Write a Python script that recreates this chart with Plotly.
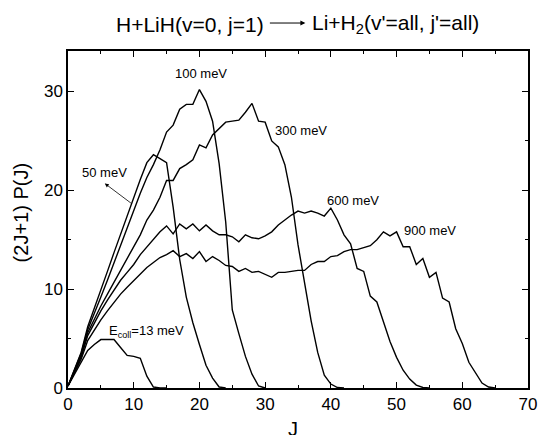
import plotly.graph_objects as go

# ---- data ----
P_13 = [0.2, 1.4, 2.6, 3.8, 4.4, 4.9, 4.9, 4.9, 4.1, 3.3, 3.2, 3.0, 1.2, 0.1, 0.0, 0.0]
P_50 = [0.2, 1.9, 3.6, 6.2, 8.0, 9.9, 11.8, 13.7, 15.6, 17.5, 19.4, 21.1, 22.8, 23.6, 23.2,
        22.8, 18.3, 13.0, 9.2, 6.6, 4.4, 2.3, 1.0, 0.1, 0.0]
P_100 = [0.2, 1.8, 3.5, 5.9, 7.5, 9.2, 10.9, 12.7, 14.5, 16.3, 18.0, 19.7, 21.3, 22.6, 24.1,
         25.9, 26.6, 28.2, 28.7, 28.7, 30.2, 29.0, 27.0, 22.7, 16.8, 7.9, 5.5, 3.2, 1.4, 0.2, 0.0]
P_300 = [0.2, 1.7, 3.3, 5.6, 7.0, 8.3, 9.5, 10.7, 11.9, 13.0, 14.3, 15.5, 17.0, 18.0, 19.3,
         21.0, 21.0, 22.2, 22.6, 23.1, 24.6, 24.3, 25.6, 26.2, 26.9, 27.0, 27.1, 27.9, 28.8,
         27.0, 26.9, 25.0, 24.4, 22.6, 19.3, 14.5, 10.8, 6.8, 3.6, 1.3, 0.4, 0.05, 0.0]
P_600 = [0.2, 1.6, 3.1, 5.3, 6.6, 7.8, 8.9, 9.9, 10.9, 11.7, 12.5, 13.5, 14.3, 15.0, 15.8,
         16.4, 15.6, 16.6, 16.1, 16.6, 15.9, 16.5, 15.9, 15.5, 15.5, 15.3, 14.8, 15.5, 15.2,
         15.1, 15.4, 15.8, 16.5, 17.0, 17.5, 17.9, 17.7, 17.9, 17.7, 17.4, 18.2, 17.0, 15.5,
         14.6, 12.1, 11.8, 9.3, 8.7, 6.7, 4.7, 3.1, 1.8, 0.9, 0.3, 0.05, 0.0]
P_900 = [0.2, 1.5, 2.9, 4.8, 5.9, 6.9, 7.8, 8.7, 9.5, 10.2, 10.9, 11.5, 12.2, 12.7, 13.2,
         13.5, 13.9, 13.3, 13.6, 13.1, 13.8, 12.8, 13.3, 12.9, 12.4, 12.3, 11.8, 12.1, 11.7,
         11.8, 11.5, 11.2, 11.7, 11.7, 11.8, 11.9, 11.9, 12.5, 12.8, 12.8, 13.3, 13.4, 13.8,
         14.0, 14.0, 14.2, 14.4, 15.0, 15.8, 15.4, 15.8, 14.3, 14.3, 12.5, 13.1, 11.2, 11.7,
         9.1, 8.7, 6.0, 4.5, 2.6, 1.5, 0.5, 0.1, 0.0]

series = [P_13, P_50, P_100, P_300, P_600, P_900]

x_ticks = [0, 10, 20, 30, 40, 50, 60, 70]
y_ticks = [0, 10, 20, 30]

FONT = "Arial, Liberation Sans, sans-serif"

fig = go.Figure()
for P in series:
    fig.add_trace(go.Scatter(x=list(range(len(P))), y=P, mode="lines",
                             line=dict(color="black", width=1.4), showlegend=False))

axis_common = dict(showline=True, linecolor="black", linewidth=1.5, mirror="ticks",
                   ticks="inside", ticklen=6, tickwidth=1.2, tickcolor="black",
                   showgrid=False, zeroline=False,
                   tickfont=dict(family=FONT, size=17, color="black"),
                   minor=dict(ticks="inside", ticklen=3, tickwidth=1.2, tickcolor="black",
                              showgrid=False))

fig.update_xaxes(range=[0, 70], tickvals=x_ticks, minor_dtick=5, **axis_common)
fig.update_yaxes(range=[0, 34.1], tickvals=y_ticks, minor_dtick=5, **axis_common)

ann = []
def txt(x, y, s, size=13, xanchor="center", yanchor="middle", **kw):
    ann.append(dict(x=x, y=y, text=s, showarrow=False, xanchor=xanchor, yanchor=yanchor,
                    font=dict(family=FONT, size=size, color="black"), **kw))

txt(20.3, 31.8, "100 meV")
txt(35.4, 26.1, "300 meV")
txt(43.3, 19.0, "600 meV")
txt(55.1, 15.9, "900 meV")
txt(5.6, 21.8, "50 meV")
txt(5.9, 5.7, "E<sub>coll</sub>=13 meV", xanchor="left")

ann.append(dict(x=5.6, y=20.7, ax=9.8, ay=18.6, axref="x", ayref="y", xref="x", yref="y",
                text="", showarrow=True, arrowhead=2, arrowsize=1, arrowwidth=0.8,
                arrowcolor="black"))

# title pieces
ann.append(dict(x=0.4306, y=1.080, xref="paper", yref="paper", text="H+LiH(v=0, j=1)",
                showarrow=False, xanchor="right", yanchor="middle",
                font=dict(family=FONT, size=21, color="black")))
ann.append(dict(x=0.5263, y=1.080, xref="paper", yref="paper",
                text="Li+H<sub>2</sub>(v'=all, j'=all)",
                showarrow=False, xanchor="left", yanchor="middle",
                font=dict(family=FONT, size=21, color="black")))
ann.append(dict(x=0.516, y=1.083, xref="paper", yref="paper", text="", showarrow=True,
                ax=-37, ay=0, arrowhead=2, arrowsize=1, arrowwidth=1, arrowcolor="black"))

# axis titles
ann.append(dict(x=0.49, y=0, xref="paper", yref="paper", yshift=-28, text="J",
                showarrow=False, xanchor="center", yanchor="top",
                font=dict(family=FONT, size=20, color="black")))
ann.append(dict(x=-0.103, y=0.52, xref="paper", yref="paper", text="(2J+1) P(J)",
                showarrow=False, xanchor="center", yanchor="middle", textangle=-90,
                font=dict(family=FONT, size=20, color="black")))

fig.update_layout(width=547, height=435, margin=dict(l=68, r=10, t=51, b=47),
                  paper_bgcolor="white", plot_bgcolor="white", annotations=ann)

fig.write_html("out.html")
